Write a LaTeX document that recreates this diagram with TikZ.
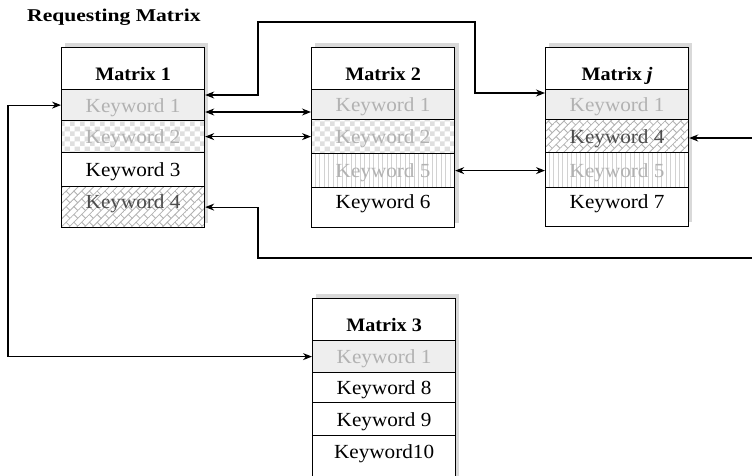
\documentclass[tikz,border=0pt]{standalone}
\usepackage{fontspec}
\setmainfont[FakeStretch=1.06]{Liberation Serif}
\newfontfamily\titlefont[FakeStretch=1.2]{Liberation Serif}
\usetikzlibrary{arrows.meta,calc,patterns,patterns.meta}

\tikzdeclarepattern{
  name=dbrick, type=uncolored,
  bounding box={(-0.5pt,-0.5pt) and (11.5pt,11.5pt)},
  tile size={(11pt,11pt)},
  tile transformation={rotate=45},
  code={\draw[line width=0.8pt] (-0.5pt,0pt) -- (11.5pt,0pt) (-0.5pt,5.5pt) -- (11.5pt,5.5pt) (0pt,0pt) -- (0pt,5.5pt) (5.5pt,5.5pt) -- (5.5pt,11pt);}
}
\tikzdeclarepattern{
  name=checker, type=colored,
  bounding box={(0pt,0pt) and (10pt,10pt)},
  tile size={(10pt,10pt)},
  code={\fill[gray!25] (0pt,0pt) rectangle (5pt,5pt) (5pt,5pt) rectangle (10pt,10pt);}
}
\tikzdeclarepattern{
  name=vlines, type=colored,
  bounding box={(-0.5pt,-0.5pt) and (4.5pt,4.5pt)},
  tile size={(4.5pt,4.5pt)},
  code={\draw[gray!35, line width=0.6pt] (0pt,-0.5pt) -- (0pt,5pt);}
}

\tikzset{
  cell/.style={draw, line width=1.2pt, anchor=north west, minimum width=143pt,
    preaction={fill=white},
    inner sep=0pt, text height=14pt, text depth=0pt, font=\fontsize{20}{24}\selectfont},
  ttl/.style={cell, text height=24pt, text depth=0pt, font=\fontsize{19}{22}\selectfont\bfseries},
  last/.style={text height=14pt, text depth=12pt},
  kone/.style={fill=gray!13, text=gray!60},
  ktwo/.style={pattern=checker, text=gray!60},
  kfive/.style={pattern=vlines, text=gray!60},
  kfour/.style={pattern=dbrick, pattern color=gray!60, text=black!70},
  shadowbox/.style={fill=gray!30},
  dbl/.style={{Stealth[length=9pt,width=7pt]}-{Stealth[length=9pt,width=7pt]}, line width=1.1pt},
  arr/.style={-{Stealth[length=9pt,width=7pt]}, line width=1.1pt},
}

\begin{document}
\begin{tikzpicture}[x=1pt,y=-1pt]
\useasboundingbox (0,0) rectangle (752,475);

\node[anchor=base west, inner sep=0pt, font=\titlefont\fontsize{18}{20}\selectfont\bfseries] (req) at (27,21) {Requesting Matrix};

% shadows
\fill[shadowbox] (65,43) rectangle (208,223);
\fill[shadowbox] (315,43) rectangle (459,223);
\fill[shadowbox] (549,43) rectangle (692,222);
\fill[shadowbox] (316,294) rectangle (459,480);

% Matrix 1
\node[ttl, minimum height=42pt] (m1t) at (61,47) {Matrix 1};
\node[cell, kone, minimum height=31pt] (m1k1) at (61,89) {Keyword 1};
\node[cell, ktwo, minimum height=32pt] (m1k2) at (61,120) {Keyword 2};
\node[cell, minimum height=34pt] (m1k3) at (61,152) {Keyword 3};
\node[cell, kfour, last, minimum height=41pt] (m1k4) at (61,186) {Keyword 4};

% Matrix 2
\node[ttl, minimum height=42pt] (m2t) at (311,47) {Matrix 2};
\node[cell, kone, minimum height=30pt] (m2k1) at (311,89) {Keyword 1};
\node[cell, ktwo, minimum height=34pt] (m2k2) at (311,119) {Keyword 2};
\node[cell, kfive, minimum height=34pt] (m2k5) at (311,153) {Keyword 5};
\node[cell, last, minimum height=40pt] (m2k6) at (311,187) {Keyword 6};

% Matrix j
\node[ttl, minimum height=42pt] (mjt) at (545,47) {Matrix \textit{j}};
\node[cell, kone, minimum height=30pt] (mjk1) at (545,89) {Keyword 1};
\node[cell, kfour, minimum height=33pt] (mjk4) at (545,119) {Keyword 4};
\node[cell, kfive, minimum height=35pt] (mjk5) at (545,152) {Keyword 5};
\node[cell, last, minimum height=39pt] (mjk7) at (545,187) {Keyword 7};

% Matrix 3
\node[ttl, minimum height=42pt] (m3t) at (312,298) {Matrix 3};
\node[cell, kone, minimum height=32pt] (m3k1) at (312,340) {Keyword 1};
\node[cell, minimum height=30pt] (m3k8) at (312,372) {Keyword 8};
\node[cell, minimum height=33pt] (m3k9) at (312,402) {Keyword 9};
\node[cell, last, minimum height=43pt] (m3k10) at (312,435) {Keyword10};

% connectors
\coordinate (rin) at (752,138);
\coordinate (rbot) at (752,258);

\draw[dbl] ($(m1k1.north east)+(0,6)$) -| (258,22) -| ($(mjk1.north west)+(-70,4)$) -- ($(mjk1.north west)+(0,4)$);
\draw[dbl] ($(m1k1.north east)+(0,23)$) -- ($(m2k1.north west)+(0,23)$);
\draw[dbl] (m1k2.east) -- (m1k2.east -| m2k2.west);
\draw[dbl] (m2k5.east) -- (m2k5.east -| mjk5.west);
\draw[arr] (rin) -- (rin -| mjk4.east);
\draw[arr] (rbot) -- (258,258) |- (m1k4.east);
\draw[dbl] (m1k1.west) -- ++(-53,0) |- (m3k1.west);
\end{tikzpicture}
\end{document}
